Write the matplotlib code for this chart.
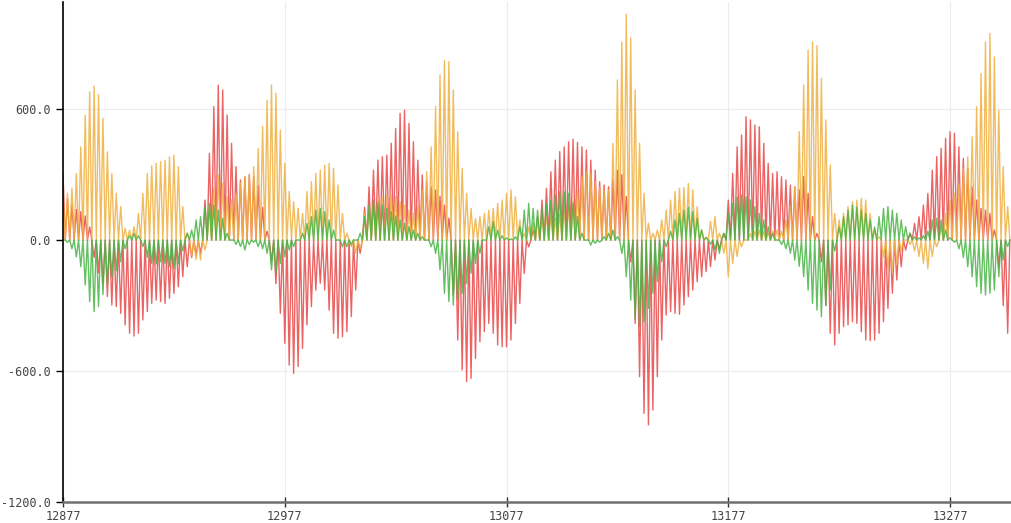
import numpy as np
import matplotlib
matplotlib.use("Agg")
import matplotlib.pyplot as plt

# Serial-plotter style capture: each channel alternates between a peak value
# and zero on every other sample. Peak values.
START_SAMPLE = 12877

gold_peaks = [
    200, 214, 237, 305, 427, 572, 679, 705, 667, 557,
    404, 305, 214, 153, 53, 45, 61, 122, 214, 305,
    340, 351, 359, 366, 382, 389, 336, 153, 31, -73,
    -89, -92, -46, 150, 240, 298, 260, 200, 183, 210,
    261, 290, 300, 336, 420, 520, 641, 710, 672, 504,
    351, 222, 175, 146, 122, 222, 267, 305, 320, 343,
    351, 328, 252, 122, 31, -30, -60, -40, 122, 153,
    168, 183, 198, 206, 206, 198, 175, 160, 137, 122,
    153, 229, 313, 427, 611, 756, 824, 817, 687, 496,
    328, 214, 145, 99, 107, 122, 137, 145, 168, 183,
    214, 229, 198, 92, 31, 60, 80, 100, 110, 120,
    110, 100, 120, 140, 160, 183, 229, 290, 313, 305,
    267, 244, 229, 229, 443, 733, 907, 1035, 925, 687,
    443, 214, 77, 31, 46, 92, 137, 183, 222, 237,
    240, 259, 229, 153, 46, 15, 85, 108, 31, -61,
    -168, -107, -76, -31, 0, 30, 40, 46, 40, 35,
    40, 46, 40, 92, 153, 244, 497, 710, 870, 908,
    890, 740, 550, 343, 122, 92, 122, 153, 175, 183,
    191, 183, 122, 46, 15, -80, -130, -150, -110, -50,
    0, -20, -50, -76, -107, -130, -76, -31, 60, 122,
    183, 214, 252, 328, 382, 473, 611, 763, 908, 946,
    839, 595, 336, 153,
]

red_peaks = [
    300, 190, 160, 140, 130, 110, 60, -80, -150, -200,
    -259, -298, -305, -336, -389, -427, -440, -427, -366, -328,
    -290, -275, -282, -290, -267, -244, -214, -168, -122, -80,
    -70, -60, 183, 397, 611, 710, 687, 572, 443, 336,
    275, 290, 300, 290, 250, 150, 40, -100, -200, -336,
    -473, -573, -611, -580, -496, -389, -305, -229, -198, -229,
    -321, -427, -450, -443, -420, -351, -229, -61, 150, 244,
    320, 366, 382, 389, 443, 511, 580, 595, 534, 450,
    366, 298, 267, 244, 229, 200, 160, 100, -250, -458,
    -595, -649, -634, -542, -466, -420, -382, -427, -481, -489,
    -489, -458, -382, -290, -153, -31, 46, 107, 183, 237,
    313, 366, 405, 427, 450, 462, 447, 427, 412, 366,
    320, 267, 252, 244, 275, 320, 300, 200, -100, -382,
    -626, -794, -847, -779, -626, -458, -344, -328, -336, -340,
    -298, -259, -229, -191, -168, -145, -122, -92, -40, 30,
    183, 305, 427, 481, 565, 550, 527, 519, 443, 351,
    305, 313, 290, 275, 252, 244, 230, 290, 214, 107,
    30, -100, -300, -427, -481, -427, -397, -389, -374, -382,
    -420, -458, -461, -458, -427, -374, -313, -244, -183, -122,
    -46, 31, 76, 107, 160, 214, 320, 382, 420, 466,
    496, 489, 427, 374, 328, 244, 183, 145, 137, 122,
    46, -122, -300, -427,
]

green_peaks = [
    0, -10, -40, -77, -122, -206, -282, -328, -305, -250,
    -200, -170, -140, -100, -40, 20, 30, 20, -30, -80,
    -107, -110, -100, -107, -122, -130, -110, -50, 31, 46,
    92, 107, 153, 168, 160, 137, 100, 31, 0, -20,
    -30, -46, -20, -10, -30, -40, -61, -137, -153, -107,
    -77, -46, -30, 0, 31, 76, 107, 137, 145, 130,
    92, 46, 0, -31, -31, -20, 0, 31, 107, 160,
    183, 170, 160, 145, 130, 110, 92, 76, 61, 46,
    31, 15, 0, -31, -61, -137, -244, -282, -298, -275,
    -244, -198, -153, -107, -61, 0, 61, 84, 46, 20,
    10, 5, 15, 61, 137, 168, 145, 137, 145, 168,
    183, 206, 221, 221, 214, 168, 107, 31, 0, -23,
    -15, -10, 15, 31, 46, 15, -61, -168, -275, -359,
    -397, -374, -313, -244, -191, -100, -30, 40, 92, 122,
    137, 150, 130, 100, 46, 10, -20, -46, -61, 30,
    122, 168, 198, 206, 198, 183, 153, 122, 92, 61,
    31, 0, -20, -40, -61, -92, -120, -168, -229, -290,
    -321, -351, -300, -229, -50, 60, 107, 137, 160, 150,
    137, 122, 92, 60, 107, 145, 153, 137, 122, 92,
    61, 31, 15, 10, 20, 40, 92, 100, 92, 46,
    10, -10, -40, -80, -122, -168, -214, -244, -252, -244,
    -229, -168, -92, -30,
]

x_ticks = [12877, 12977, 13077, 13177, 13277]
y_ticks = [-1200, -600, 0, 600]


def to_samples(peaks):
    # peak on even samples, back to zero on odd samples
    samples = np.zeros(2 * len(peaks))
    samples[0::2] = peaks
    return samples


red = to_samples(red_peaks)
gold = to_samples(gold_peaks)
green = to_samples(green_peaks)
sample_index = START_SAMPLE + np.arange(len(red))

fig = plt.figure(figsize=(10.12, 5.23), dpi=100)
ax = fig.add_axes([0.0623, 0.0402, 0.9367, 0.9558])

ax.plot(sample_index, red, color="#e84848", lw=1.0, alpha=0.85)
ax.plot(sample_index, gold, color="#f0b040", lw=1.0, alpha=0.85)
ax.plot(sample_index, green, color="#48b444", lw=1.0, alpha=0.85)

ax.set_xlim(12877, 13304.5)
ax.set_ylim(-1200, 1090)
ax.set_xticks(x_ticks)
ax.set_xticklabels([str(t) for t in x_ticks])
ax.set_yticks(y_ticks)
ax.set_yticklabels([f"{t:.1f}" for t in y_ticks])

ax.grid(True, color="#ececec", lw=0.8)
ax.set_axisbelow(True)

for side in ("top", "right"):
    ax.spines[side].set_visible(False)
ax.spines["left"].set_color("black")
ax.spines["left"].set_linewidth(1.2)
ax.spines["bottom"].set_color("#707070")
ax.spines["bottom"].set_linewidth(1.8)

ax.tick_params(axis="y", direction="out", length=5, width=1, color="black",
               pad=4, labelsize=8.5, labelcolor="#444444")
ax.tick_params(axis="x", direction="inout", length=7, width=1, color="#333333",
               pad=2, labelsize=8.5, labelcolor="#444444")
for lab in ax.get_xticklabels() + ax.get_yticklabels():
    lab.set_family("DejaVu Sans Mono")

fig.savefig("out.png", dpi=100)
